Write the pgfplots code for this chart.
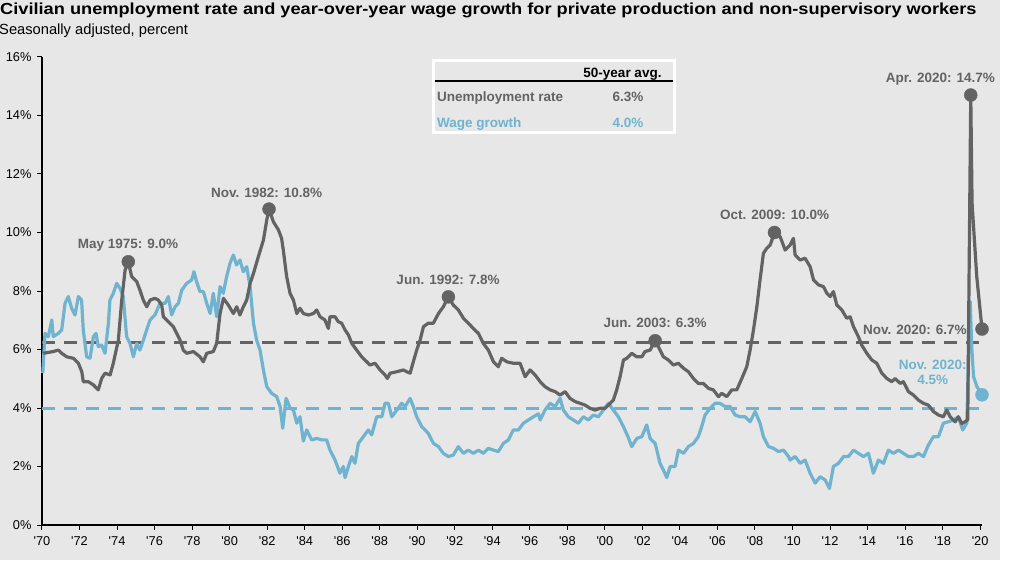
\documentclass[border=0pt]{standalone}
\usepackage{fontspec}
\setmainfont{Liberation Sans}
\newfontfamily\lsans{Liberation Sans}
\usepackage{graphicx}
\usepackage{pgfplots}
\pgfplotsset{compat=1.18}
\definecolor{bg}{RGB}{231,231,231}
\definecolor{ungray}{RGB}{99,99,99}
\definecolor{wblue}{RGB}{111,179,207}

\pgfplotstableread{
x y
1970.07 5.87
1970.60 5.93
1970.87 5.98
1971.05 5.87
1971.32 5.75
1971.67 5.70
1971.94 5.53
1972.12 5.24
1972.20 4.90
1972.47 4.90
1972.74 4.79
1973.00 4.62
1973.18 5.01
1973.36 5.19
1973.63 5.13
1973.80 5.53
1974.07 6.32
1974.25 7.69
1974.43 8.72
1974.60 9.00
1974.78 8.49
1975.05 8.32
1975.22 8.03
1975.40 7.69
1975.58 7.46
1975.76 7.69
1976.02 7.75
1976.20 7.69
1976.38 7.52
1976.47 7.12
1976.73 6.95
1977.00 6.78
1977.36 6.32
1977.53 5.98
1977.71 5.87
1978.07 5.93
1978.42 5.75
1978.60 5.58
1978.78 5.87
1979.13 5.93
1979.31 6.21
1979.49 7.23
1979.67 7.75
1979.93 7.52
1980.20 7.23
1980.38 7.46
1980.55 7.18
1980.73 7.46
1980.91 7.69
1981.09 8.26
1981.27 8.60
1981.53 9.17
1981.80 9.74
1981.98 10.43
1982.10 10.80
1982.33 10.37
1982.60 10.09
1982.77 9.80
1982.86 9.40
1983.04 8.49
1983.22 7.92
1983.40 7.69
1983.58 7.23
1983.75 7.41
1983.93 7.23
1984.20 7.18
1984.46 7.23
1984.64 7.35
1984.82 7.12
1985.08 7.01
1985.26 6.72
1985.35 7.12
1985.62 7.12
1985.79 6.95
1985.97 6.90
1986.15 6.67
1986.33 6.50
1986.51 6.21
1986.77 5.98
1987.04 5.75
1987.31 5.58
1987.48 5.47
1987.75 5.53
1988.02 5.30
1988.28 5.13
1988.41 5.01
1988.55 5.19
1988.91 5.24
1989.26 5.30
1989.44 5.24
1989.62 5.19
1989.79 5.58
1989.97 5.98
1990.15 6.32
1990.33 6.78
1990.59 6.90
1990.86 6.90
1991.13 7.23
1991.39 7.46
1991.66 7.80
1991.92 7.52
1992.19 7.35
1992.46 7.07
1992.72 6.90
1992.99 6.72
1993.26 6.55
1993.52 6.21
1993.79 5.98
1994.06 5.58
1994.32 5.41
1994.50 5.70
1994.77 5.58
1995.12 5.53
1995.48 5.53
1995.75 5.07
1996.01 5.30
1996.28 5.13
1996.55 4.90
1996.81 4.73
1997.08 4.62
1997.35 4.56
1997.61 4.44
1997.88 4.56
1998.14 4.33
1998.41 4.22
1998.68 4.16
1998.94 4.10
1999.21 3.99
1999.48 3.93
1999.74 3.99
2000.01 3.99
2000.19 4.10
2000.45 4.27
2000.63 4.62
2000.81 5.07
2000.99 5.64
2001.17 5.70
2001.43 5.87
2001.70 5.75
2001.97 5.75
2002.14 5.93
2002.41 5.98
2002.68 6.30
2002.94 5.98
2003.12 5.75
2003.39 5.64
2003.65 5.47
2003.92 5.53
2004.19 5.36
2004.45 5.24
2004.72 5.01
2004.98 4.84
2005.25 4.84
2005.52 4.67
2005.78 4.62
2006.05 4.39
2006.23 4.50
2006.50 4.39
2006.76 4.62
2007.03 4.62
2007.30 5.01
2007.56 5.41
2007.74 5.98
2007.92 6.67
2008.10 7.46
2008.27 8.38
2008.45 9.29
2008.63 9.46
2008.81 9.57
2009.04 10.00
2009.34 9.86
2009.61 9.40
2009.87 9.57
2010.05 9.80
2010.14 9.23
2010.41 9.06
2010.67 9.12
2010.94 8.83
2011.12 8.38
2011.38 8.21
2011.65 8.15
2011.83 7.92
2012.01 7.81
2012.18 7.98
2012.36 7.52
2012.63 7.35
2012.89 7.07
2013.07 7.12
2013.25 6.78
2013.51 6.44
2013.69 6.15
2013.96 5.87
2014.23 5.64
2014.49 5.53
2014.76 5.19
2015.03 5.01
2015.29 4.90
2015.47 5.01
2015.74 4.84
2015.91 4.90
2016.18 4.56
2016.45 4.44
2016.71 4.27
2016.98 4.16
2017.24 4.10
2017.51 3.88
2017.78 3.76
2018.04 3.70
2018.22 3.93
2018.40 3.70
2018.67 3.53
2018.84 3.70
2019.02 3.47
2019.20 3.53
2019.34 3.60
2019.50 14.70
2019.57 11.00
2019.82 8.49
2020.10 6.70
}\unemp

\pgfplotstableread{
x y
1970.04 5.19
1970.16 6.55
1970.34 6.44
1970.52 7.01
1970.60 6.44
1970.87 6.55
1971.05 6.67
1971.23 7.58
1971.40 7.81
1971.58 7.41
1971.76 7.18
1971.94 7.81
1972.11 7.69
1972.20 6.67
1972.38 5.75
1972.56 5.70
1972.74 6.44
1972.88 6.55
1973.00 6.10
1973.18 6.15
1973.36 5.87
1973.54 6.90
1973.62 7.69
1973.80 7.92
1973.98 8.26
1974.16 8.09
1974.33 7.81
1974.51 6.44
1974.69 6.21
1974.87 5.75
1975.05 6.21
1975.22 5.98
1975.40 6.32
1975.58 6.67
1975.76 7.01
1976.02 7.18
1976.29 7.58
1976.56 7.58
1976.73 7.81
1976.91 7.18
1977.09 7.46
1977.27 7.58
1977.45 8.03
1977.71 8.26
1977.98 8.38
1978.10 8.66
1978.24 8.32
1978.42 7.98
1978.60 7.98
1978.78 7.58
1978.96 7.23
1979.13 7.92
1979.31 7.12
1979.49 8.15
1979.66 7.92
1979.84 8.49
1980.02 8.95
1980.20 9.23
1980.37 8.89
1980.55 9.06
1980.73 8.66
1980.91 8.83
1981.09 8.15
1981.27 6.90
1981.44 6.32
1981.62 5.98
1981.80 5.30
1981.98 4.73
1982.24 4.50
1982.51 4.39
1982.69 4.05
1982.83 3.31
1983.01 4.33
1983.22 4.00
1983.40 3.93
1983.58 3.48
1983.75 3.70
1983.93 2.87
1984.11 3.25
1984.37 2.91
1984.64 2.96
1984.91 2.91
1985.17 2.91
1985.35 2.56
1985.62 2.22
1985.88 1.77
1986.06 2.00
1986.15 1.62
1986.33 2.00
1986.51 2.34
1986.68 2.11
1986.86 2.79
1987.13 3.02
1987.39 3.25
1987.57 3.08
1987.84 3.70
1988.11 3.70
1988.28 4.16
1988.46 4.16
1988.64 3.70
1988.91 3.93
1989.17 4.16
1989.35 4.05
1989.62 4.33
1989.79 4.05
1989.97 3.70
1990.24 3.36
1990.42 3.25
1990.59 3.13
1990.86 2.79
1991.13 2.68
1991.39 2.45
1991.66 2.34
1991.92 2.39
1992.19 2.68
1992.46 2.45
1992.72 2.56
1992.99 2.45
1993.26 2.56
1993.52 2.45
1993.79 2.62
1994.06 2.56
1994.32 2.51
1994.59 2.79
1994.86 2.91
1995.12 3.25
1995.39 3.25
1995.66 3.48
1995.92 3.59
1996.19 3.70
1996.46 3.80
1996.55 3.59
1996.81 3.93
1997.08 4.16
1997.35 4.05
1997.61 4.33
1997.79 3.93
1998.05 3.70
1998.32 3.59
1998.59 3.48
1998.85 3.70
1999.12 3.59
1999.39 3.76
1999.65 3.70
1999.92 3.93
2000.19 4.16
2000.45 3.93
2000.72 3.70
2000.99 3.36
2001.25 2.99
2001.43 2.68
2001.70 2.96
2001.97 3.02
2002.23 3.42
2002.41 2.96
2002.68 2.79
2002.94 2.11
2003.12 1.88
2003.30 1.62
2003.48 2.00
2003.74 2.00
2003.92 2.56
2004.19 2.45
2004.45 2.68
2004.72 2.79
2004.98 3.02
2005.16 3.36
2005.34 3.76
2005.61 3.99
2005.87 4.16
2006.14 4.16
2006.41 4.05
2006.67 4.05
2006.94 3.76
2007.21 3.70
2007.47 3.70
2007.74 3.53
2008.01 3.88
2008.27 3.48
2008.45 3.02
2008.72 2.68
2008.99 2.62
2009.25 2.51
2009.52 2.56
2009.79 2.34
2009.87 2.22
2010.14 2.34
2010.41 2.11
2010.67 2.22
2010.94 1.77
2011.21 1.43
2011.47 1.65
2011.74 1.54
2011.97 1.25
2012.18 2.00
2012.45 2.11
2012.72 2.34
2012.98 2.34
2013.25 2.56
2013.51 2.45
2013.78 2.34
2014.05 2.45
2014.31 1.77
2014.58 2.22
2014.85 2.11
2015.11 2.56
2015.38 2.45
2015.65 2.56
2015.91 2.45
2016.18 2.34
2016.45 2.34
2016.71 2.45
2016.98 2.34
2017.24 2.73
2017.51 3.02
2017.78 3.02
2018.04 3.48
2018.31 3.53
2018.58 3.59
2018.84 3.70
2019.07 3.25
2019.29 3.48
2019.38 5.70
2019.47 7.64
2019.56 5.98
2019.65 5.07
2019.83 4.73
2020.10 4.45
}\wage

\begin{document}
\begin{tikzpicture}[x=1pt,y=1pt]
\fill[white] (0,0) rectangle (1012,560);
\fill[bg] (0,0) rectangle (1000,560);
\node[anchor=base west, inner sep=0, font=\lsans\bfseries\fontsize{16}{19}\selectfont] at (0,545) {\scalebox{1.138}[1]{Civilian unemployment rate and year-over-year wage growth for private production and non-supervisory workers}};
\node[anchor=base west, inner sep=0, font=\lsans\fontsize{14.7}{17}\selectfont] at (-1,525) {Seasonally adjusted, percent};
\begin{axis}[
  at={(42pt,35pt)}, anchor=south west,
  scale only axis, width=940pt, height=468pt,
  xmin=1970, xmax=2020.1, ymin=0, ymax=16,
  axis x line*=bottom, axis y line*=left,
  axis line style={black, line width=1.1pt, -},
  tick align=outside, major tick length=5pt,
  tick style={black, line width=1pt},
  xtick={1970,1972,1974,1976,1978,1980,1982,1984,1986,1988,1990,1992,1994,1996,1998,2000,2002,2004,2006,2008,2010,2012,2014,2016,2018,2020},
  xticklabels={'70,'72,'74,'76,'78,'80,'82,'84,'86,'88,'90,'92,'94,'96,'98,'00,'02,'04,'06,'08,'10,'12,'14,'16,'18,'20},
  ytick={0,2,4,6,8,10,12,14,16},
  yticklabels={0\%,2\%,4\%,6\%,8\%,10\%,12\%,14\%,16\%},
  ticklabel style={font=\lsans\fontsize{12.8}{14}\selectfont, text=black},
  xticklabel style={yshift=-3.5pt},
  yticklabel style={xshift=-2pt},
  clip=false,
]
\addplot[ungray, line width=3pt, dash pattern=on 13pt off 9pt] coordinates {(1970,6.25) (2020.1,6.25)};
\addplot[wblue, line width=3pt, dash pattern=on 13pt off 9pt] coordinates {(1970,4.0) (2020.1,4.0)};
\addplot[wblue, line width=3.2pt, line join=round] table[x=x,y=y] {\wage};
\addplot[ungray, line width=3.2pt, line join=round] table[x=x,y=y] {\unemp};
\addplot[only marks, mark=*, mark size=6.5pt, ungray, mark options={draw=ungray, fill=ungray}] coordinates {(1974.60,9.0) (1982.10,10.8) (1991.66,7.8) (2002.68,6.3) (2009.04,10.0) (2019.50,14.7) (2020.10,6.7)};
\addplot[only marks, mark=*, mark size=6.5pt, wblue, mark options={draw=wblue, fill=wblue}] coordinates {(2020.10,4.45)};
\tikzset{ann/.style={anchor=base, inner sep=0, font=\lsans\bfseries\fontsize{13.5}{16}\selectfont, text=ungray}}
\node[ann] at (axis cs:1974.58,9.44) {May 1975: 9.0\%};
\node[ann] at (axis cs:1981.97,11.21) {Nov. 1982: 10.8\%};
\node[ann] at (axis cs:1991.64,8.23) {Jun. 1992: 7.8\%};
\node[ann] at (axis cs:2002.68,6.74) {Jun. 2003: 6.3\%};
\node[ann] at (axis cs:2009.05,10.43) {Oct. 2009: 10.0\%};
\node[ann, anchor=base east] at (axis cs:2020.80,15.12) {Apr. 2020: 14.7\%};
\node[ann, anchor=base east] at (axis cs:2019.29,6.50) {Nov. 2020: 6.7\%};
\node[ann, text=wblue] at (axis cs:2017.47,5.30) {Nov. 2020:};
\node[ann, text=wblue] at (axis cs:2017.47,4.79) {4.5\%};
\end{axis}
% summary table
\draw[white, line width=3pt] (433.5,499) rectangle (674,427);
\draw[black, line width=2pt] (435,479) -- (673,479);
\tikzset{tb/.style={inner sep=0, font=\lsans\bfseries\fontsize{13.5}{16}\selectfont}}
\node[tb, anchor=base, text=black] at (622.5,482) {50-year avg.};
\node[tb, anchor=base west, text=ungray] at (437,458.5) {Unemployment rate};
\node[tb, anchor=base, text=ungray] at (628,458.5) {6.3\%};
\node[tb, anchor=base west, text=wblue] at (437,432.5) {Wage growth};
\node[tb, anchor=base, text=wblue] at (628,432.5) {4.0\%};
\pgfresetboundingbox
\path (0,0) rectangle (1012,560);
\end{tikzpicture}
\end{document}
